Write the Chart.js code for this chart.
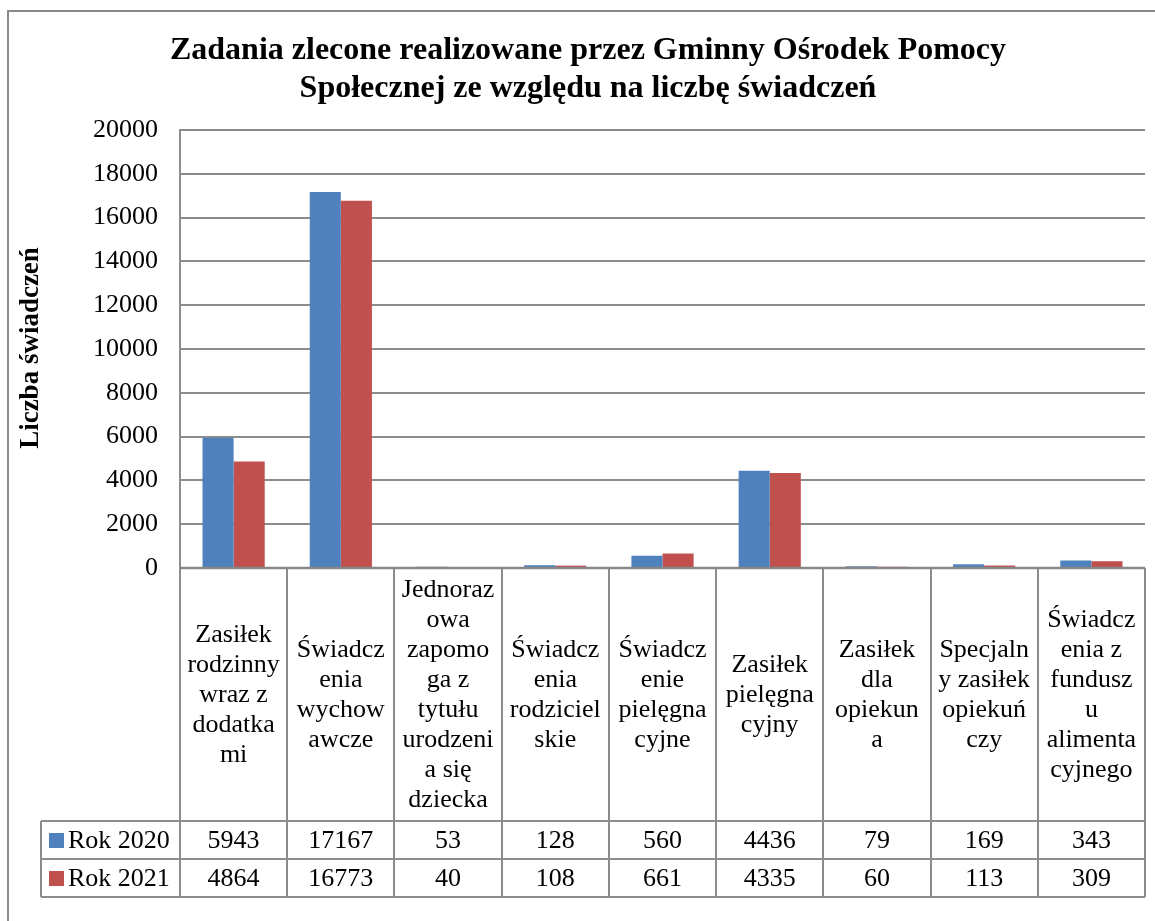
<!DOCTYPE html>
<html>
<head>
<meta charset="utf-8">
<script src="https://cdn.jsdelivr.net/npm/chart.js@4"></script>
<style>
  body{margin:0;background:#fff;}
  #wrap{width:1155px;height:921px;position:relative;}
</style>
</head>
<body>
<div id="wrap"><canvas id="c" width="1155" height="921"></canvas></div>
<script>
// data
const categories = [
  ["Zasiłek","rodzinny","wraz z","dodatka","mi"],
  ["Świadcz","enia","wychow","awcze"],
  ["Jednoraz","owa","zapomo","ga z","tytułu","urodzeni","a się","dziecka"],
  ["Świadcz","enia","rodziciel","skie"],
  ["Świadcz","enie","pielęgna","cyjne"],
  ["Zasiłek","pielęgna","cyjny"],
  ["Zasiłek","dla","opiekun","a"],
  ["Specjaln","y zasiłek","opiekuń","czy"],
  ["Świadcz","enia z","fundusz","u","alimenta","cyjnego"]
];
const rok2020 = [5943, 17167, 53, 128, 560, 4436, 79, 169, 343];
const rok2021 = [4864, 16773, 40, 108, 661, 4335, 60, 113, 309];
const seriesNames = ["Rok 2020", "Rok 2021"];
const seriesColors = ["#4F81BD", "#C0504D"];
const titleLines = ["Zadania zlecone realizowane przez Gminny Ośrodek Pomocy", "Społecznej ze względu na liczbę świadczeń"];
const yTitle = "Liczba świadczeń";

const FONT = "'Liberation Serif', 'Times New Roman', serif";
const GRID = "#8c8c8c";

// title, y title, frame, data table
const extras = {
  id: "extras",
  afterDraw(chart){
    const ctx = chart.ctx;
    const ca = chart.chartArea;
    const x = chart.scales.x;
    const n = categories.length;
    const step = (ca.right - ca.left) / n;
    ctx.save();

    // outer frame
    ctx.strokeStyle = "#8a8a8a";
    ctx.lineWidth = 2;
    ctx.beginPath();
    ctx.moveTo(8, 930); ctx.lineTo(8, 11); ctx.lineTo(1160, 11);
    ctx.stroke();

    // title
    ctx.fillStyle = "#000";
    ctx.font = "bold 32px " + FONT;
    ctx.textAlign = "center";
    ctx.textBaseline = "middle";
    ctx.fillText(titleLines[0], 588, 51);
    ctx.fillText(titleLines[1], 588, 89);

    // y title
    ctx.save();
    ctx.translate(31, 348);
    ctx.rotate(-Math.PI/2);
    ctx.font = "bold 27px " + FONT;
    ctx.fillText(yTitle, 0, 0);
    ctx.restore();

    // table geometry
    const headTop = ca.bottom;
    const row1 = 821, row2 = 859, row3 = 897;
    const legLeft = 41;

    ctx.strokeStyle = GRID;
    ctx.lineWidth = 2;
    ctx.beginPath();
    for(let i = 0; i <= n; i++){
      const px = Math.round(x.getPixelForValue(i) - step/2);
      const xx = i === n ? ca.right : px;
      ctx.moveTo(xx, headTop); ctx.lineTo(xx, row3);
    }
    ctx.moveTo(legLeft, row1); ctx.lineTo(ca.right, row1);
    ctx.moveTo(legLeft, row2); ctx.lineTo(ca.right, row2);
    ctx.moveTo(legLeft, row3); ctx.lineTo(ca.right, row3);
    ctx.moveTo(legLeft, row1); ctx.lineTo(legLeft, row3);
    ctx.stroke();

    // axis line at 0
    ctx.strokeStyle = "#868686";
    ctx.lineWidth = 2.5;
    ctx.beginPath();
    ctx.moveTo(ca.left, ca.bottom); ctx.lineTo(ca.right, ca.bottom);
    ctx.stroke();

    // category headers
    ctx.fillStyle = "#000";
    ctx.font = "26px " + FONT;
    const lh = 30;
    const midHead = (headTop + row1) / 2 + 1;
    categories.forEach((lines, i) => {
      const cx = x.getPixelForValue(i);
      const y0 = midHead - (lines.length - 1) * lh / 2;
      lines.forEach((s, k) => ctx.fillText(s, cx, y0 + k * lh));
    });

    // values
    const rows = [rok2020, rok2021];
    const rowMid = [(row1 + row2)/2 + 1, (row2 + row3)/2 + 1];
    rows.forEach((vals, r) => {
      vals.forEach((v, i) => ctx.fillText(String(v), x.getPixelForValue(i), rowMid[r]));
      ctx.fillStyle = seriesColors[r];
      ctx.fillRect(49, rowMid[r] - 8, 15, 15);
      ctx.fillStyle = "#000";
      ctx.textAlign = "left";
      ctx.fillText(seriesNames[r], 68, rowMid[r]);
      ctx.textAlign = "center";
    });

    ctx.restore();
  }
};

new Chart(document.getElementById("c"), {
  type: "bar",
  data: {
    labels: categories.map(l => l.join(" ")),
    datasets: [
      {label: seriesNames[0], data: rok2020, backgroundColor: seriesColors[0], barPercentage: 1, categoryPercentage: 0.58},
      {label: seriesNames[1], data: rok2021, backgroundColor: seriesColors[1], barPercentage: 1, categoryPercentage: 0.58}
    ]
  },
  options: {
    responsive: false,
    animation: false,
    devicePixelRatio: 1,
    layout: {padding: {left: 0, top: 130, right: 10, bottom: 921 - 568}},
    plugins: {legend: {display: false}, title: {display: false}, tooltip: {enabled: false}},
    scales: {
      x: {
        ticks: {display: false},
        grid: {display: false, drawTicks: false},
        border: {display: false}
      },
      y: {
        min: 0, max: 20000,
        ticks: {stepSize: 2000, color: "#000", font: {family: FONT, size: 26}, padding: 22,
                callback: v => String(v)},
        grid: {color: GRID, lineWidth: 2, drawTicks: false},
        border: {color: GRID, width: 2},
        afterFit(s){ s.width = 180; }
      }
    }
  },
  plugins: [extras]
});
</script>
</body>
</html>
